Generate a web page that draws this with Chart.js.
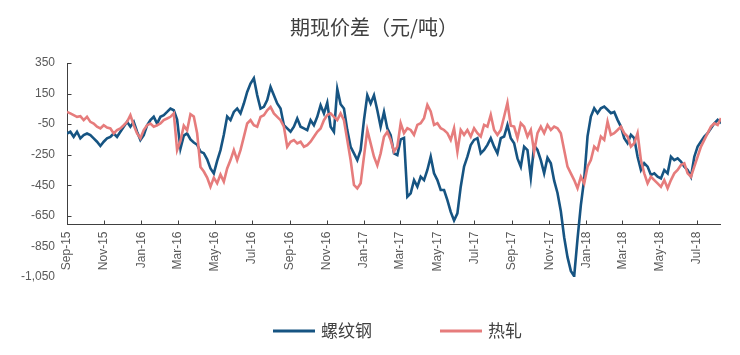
<!DOCTYPE html>
<html>
<head>
<meta charset="utf-8">
<script src="https://cdn.jsdelivr.net/npm/chart.js@4/dist/chart.umd.min.js"></script>
<style>
html,body{margin:0;padding:0;background:#ffffff;}
#wrap{width:740px;height:355px;position:relative;}
</style>
</head>
<body>
<div id="wrap"><canvas id="c" width="740" height="355"></canvas></div>
<script>
// ---------------- data ----------------
const chartTitle = '期现价差（元/吨）';
const seriesNames = ['螺纹钢', '热轧'];
const startDate = '2015-09-01';   // first sample
const stepDays = 5.48;             // spacing between samples (days)

// 螺纹钢 basis (元/吨)
const rebar = [
  -111,-100,-133,-100,-143,-122,-111,-122,-143,-165,
  -193,-165,-143,-133,-111,-133,-100,-67,-35,-67,
  -35,-100,-154,-122,-57,-24,-2,-46,-2,9,
  30,52,41,-20,-210,-125,-110,-150,-170,-185,
  -230,-240,-280,-340,-372,-290,-220,-120,
  0,-24,30,52,20,85,161,215,250,140,
  52,63,107,193,139,85,52,-57,-78,-100,
  -67,-13,-67,-78,-89,-24,-57,-2,74,20,
  90,-67,-100,180,80,52,-89,-198,-241,-285,
  -220,-24,139,85,139,41,-67,30,-78,-122,
  -241,-252,-150,-140,-525,-503,-416,-459,-394,-416,
  -350,-263,-372,-416,-481,-481,-547,-624,-680,-634,
  -459,-328,-263,-186,-153,-142,-241,-219,-186,-142,
  -197,-241,-142,-131,-55,-142,-175,-274,-328,-197,
  -219,-400,-190,-219,-285,-372,-270,-306,-420,
  -500,-620,-790,-920,-1010,-1045,-800,-580,-410,-130,
  0,54,22,54,65,44,22,30,-22,-66,
  -142,-175,-120,-142,-263,-350,-306,-328,-383,-372,
  -394,-405,-350,-372,-263,-285,-274,-295,-328,-350,
  -394,-263,-197,-164,-131,-109,-77,-44,-22,-44
];

// 热轧 basis (元/吨)
const hotRolled = [
  30,20,9,-2,2,-24,-2,-35,-46,-67,
  -78,-57,-72,-78,-111,-89,-78,-57,-35,9,
  -57,-111,-143,-89,-57,-46,-67,-57,-46,-24,
  -13,-2,20,-220,-160,-60,-90,15,0,-110,
  -330,-360,-400,-459,-400,-437,-380,-426,
  -340,-285,-220,-285,-220,-133,-46,-24,-57,-67,
  -2,9,41,63,20,-2,-24,-67,-198,-165,
  -154,-176,-165,-198,-187,-165,-133,-100,-78,-24,
  9,20,-2,-24,20,-24,-154,-285,-448,-470,
  -437,-263,-89,-176,-263,-320,-241,-133,-100,-154,
  -230,-197,-44,-109,-77,-88,-120,-55,-44,-11,
  76,33,-55,-44,-77,-88,-109,-153,-77,-230,
  -88,-120,-88,-131,-77,-109,-131,-55,-66,11,
  -88,-120,-88,0,90,-60,-66,-142,-44,-66,
  -131,-88,-230,-109,-66,-109,-55,-88,-66,
  -77,-109,-219,-328,-372,-416,-470,-394,-438,-328,
  -285,-197,-219,-131,-153,-33,-120,-109,-88,-66,
  -109,-131,-197,-175,-109,-285,-372,-438,-394,-416,
  -438,-460,-416,-470,-416,-372,-350,-317,-306,-372,
  -394,-328,-263,-197,-153,-109,-66,-44,-55,-11
];

const tickLabels = ['Sep-15','Nov-15','Jan-16','Mar-16','May-16','Jul-16','Sep-16','Nov-16',
  'Jan-17','Mar-17','May-17','Jul-17','Sep-17','Nov-17','Jan-18','Mar-18','May-18','Jul-18'];
const tickDates = ['2015-09-01','2015-11-01','2016-01-01','2016-03-01','2016-05-01','2016-07-01',
  '2016-09-01','2016-11-01','2017-01-01','2017-03-01','2017-05-01','2017-07-01',
  '2017-09-01','2017-11-01','2018-01-01','2018-03-01','2018-05-01','2018-07-01'];
const yTickValues = [350,150,-50,-250,-450,-650,-850,-1050];
const xAxisCrossValue = -700;

// --------------- helpers ---------------
const DAY = 86400000;
const t0 = Date.parse(startDate);
const dayOf = s => (Date.parse(s) - t0) / DAY;
const sampleDays = rebar.map((_, i) => i * stepDays);
const toPoints = arr => arr.map((v, i) => ({x: sampleDays[i], y: v}));
const tickDayValues = tickDates.map(dayOf);

const blue = '#165482';
const pink = '#E67C7C';
const axisColor = '#404040';
const labelColor = '#595959';

const axesPlugin = {
  id: 'customAxes',
  beforeDatasetsDraw(chart) {
    const ctx = chart.ctx, xs = chart.scales.x, ys = chart.scales.y;
    const yAxis = Math.round(ys.getPixelForValue(xAxisCrossValue)) + 0.5;
    const xLeft = Math.round(xs.left) + 0.5;
    const yTop = ys.getPixelForValue(yTickValues[0]);
    ctx.save();
    ctx.strokeStyle = axisColor;
    ctx.lineWidth = 1;
    ctx.beginPath();
    ctx.moveTo(xs.left, yAxis); ctx.lineTo(xs.right, yAxis);
    ctx.moveTo(xLeft, yTop); ctx.lineTo(xLeft, yAxis);
    yTickValues.filter(v => v >= xAxisCrossValue).forEach(v => {
      const p = Math.round(ys.getPixelForValue(v)) + 0.5;
      ctx.moveTo(xLeft, p); ctx.lineTo(xLeft + 4, p);
    });
    tickDayValues.forEach(d => {
      const p = Math.round(xs.getPixelForValue(d)) + 0.5;
      ctx.moveTo(p, yAxis); ctx.lineTo(p, yAxis - 4);
    });
    ctx.stroke();
    ctx.restore();
  }
};

const titleLegendPlugin = {
  id: 'titleLegend',
  afterDraw(chart) {
    const ctx = chart.ctx;
    ctx.save();
    // title
    ctx.font = '20px "Noto Sans CJK SC"';
    ctx.fillStyle = '#404040';
    ctx.textAlign = 'center';
    ctx.textBaseline = 'middle';
    ctx.fillText(chartTitle, 374, 27);
    // legend
    ctx.font = '17px "Noto Sans CJK SC"';
    ctx.textAlign = 'left';
    let x = 273;
    const y = 331;
    chart.data.datasets.forEach(ds => {
      ctx.strokeStyle = ds.borderColor;
      ctx.lineWidth = 3;
      ctx.beginPath();
      ctx.moveTo(x, y); ctx.lineTo(x + 42, y);
      ctx.stroke();
      ctx.fillStyle = '#404040';
      ctx.fillText(ds.label, x + 48, y);
      x += 48 + ctx.measureText(ds.label).width + 68;
    });
    ctx.restore();
  }
};

new Chart(document.getElementById('c'), {
  type: 'line',
  data: {
    datasets: [
      {label: seriesNames[0], data: toPoints(rebar), borderColor: blue, backgroundColor: blue,
       borderWidth: 2.6, pointRadius: 0, tension: 0, order: 1},
      {label: seriesNames[1], data: toPoints(hotRolled), borderColor: pink, backgroundColor: pink,
       borderWidth: 2.6, pointRadius: 0, tension: 0, order: 0}
    ]
  },
  options: {
    responsive: false,
    animation: false,
    devicePixelRatio: 1,
    layout: {padding: {left: 0, right: 19, top: 63, bottom: 78}},
    plugins: {
      legend: {display: false},
      tooltip: {enabled: false},
      title: {display: false}
    },
    scales: {
      x: {
        type: 'linear',
        position: {y: xAxisCrossValue},
        min: 0,
        max: sampleDays[sampleDays.length - 1],
        offset: false,
        grid: {display: false, drawTicks: false},
        border: {display: false},
        afterBuildTicks: s => { s.ticks = tickDayValues.map(v => ({value: v})); },
        ticks: {
          autoSkip: false, minRotation: 90, maxRotation: 90, padding: 8,
          color: labelColor, font: {family: '"Liberation Sans", Arial', size: 12},
          callback: (v, i) => tickLabels[i]
        }
      },
      y: {
        type: 'linear',
        min: -1050, max: 350,
        grid: {display: false, drawTicks: false},
        border: {display: false},
        afterBuildTicks: s => { s.ticks = yTickValues.map(v => ({value: v})); },
        afterFit: s => { s.width = 67; },
        ticks: {
          padding: 12, color: labelColor,
          font: {family: '"Liberation Sans", Arial', size: 12},
          callback: v => v.toLocaleString('en-US')
        }
      }
    }
  },
  plugins: [axesPlugin, titleLegendPlugin]
});
</script>
</body>
</html>
